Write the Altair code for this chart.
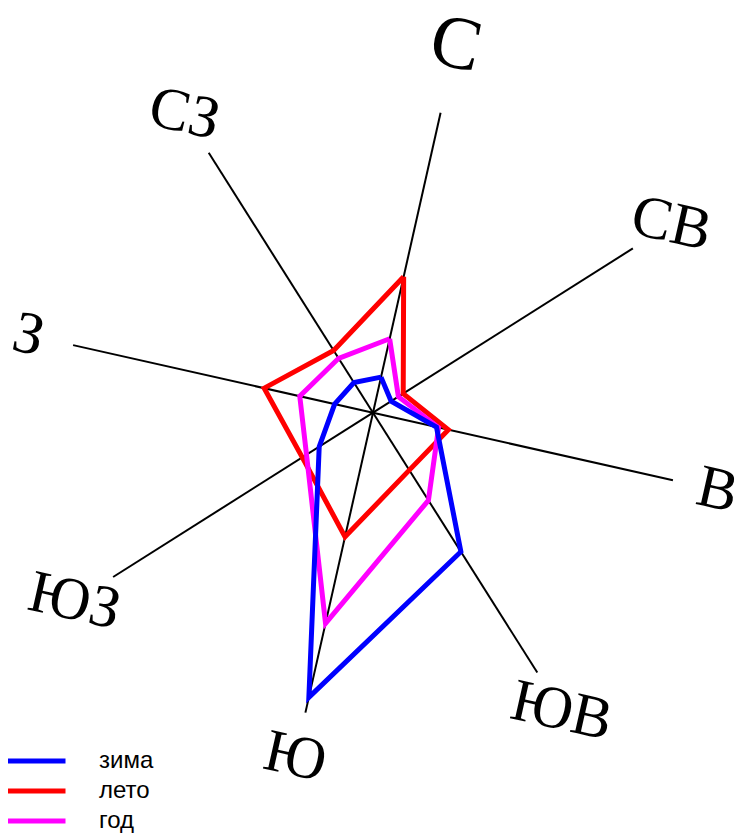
import altair as alt
import pandas as pd

# Wind directions (rumbs), clockwise from north
directions = ["С", "СВ", "В", "ЮВ", "Ю", "ЮЗ", "З", "СЗ"]

# Wind direction frequency, %
winter = [5.1, 3.0, 9.1, 23.0, 40.8, 8.9, 5.5, 5.0]
summer = [19.5, 5.0, 10.8, 9.5, 17.8, 11.7, 15.6, 10.3]
year = [10.6, 4.2, 9.4, 14.5, 30.2, 11.0, 10.5, 9.0]

series_names = ["зима", "лето", "год"]
series_colors = ["#0000ff", "#ff0000", "#ff00ff"]

ROT = 12.7        # rotation of the rose, degrees clockwise
AXIS_LEN = 43     # length of the rumb lines, %
LABEL_R = 49.4    # label radius, %
LABEL_R_N = 52.8  # label radius for the north label, %
PX = 7.15         # pixels per %

PAD_TOP = 10
W, H = 739, 824
CX, CY = 365.0, 404.7 - PAD_TOP   # centre inside the plot area, px
xdom = [-CX / PX, (W - CX) / PX]
ydom = [(CY - H) / PX, CY / PX]

rows = []
for name, vals in zip(series_names, [winter, summer, year]):
    for k in range(9):
        rows.append({"series": name, "dir": directions[k % 8], "idx": k % 8,
                     "order": k, "value": vals[k % 8]})
lines_df = pd.DataFrame(rows)
dirs_df = pd.DataFrame({"dir": directions, "idx": list(range(8))})

theta = f"(datum.idx * 45 + {ROT}) * PI / 180"
xs = alt.Scale(domain=xdom, nice=False, zero=False)
ys = alt.Scale(domain=ydom, nice=False, zero=False)
cscale = alt.Scale(domain=series_names, range=series_colors)

color = alt.Color(
    "series:N",
    scale=cscale,
    legend=alt.Legend(
        title=None, orient="none", legendX=-12, legendY=738 - PAD_TOP,
        symbolType="stroke", symbolSize=4489, symbolStrokeWidth=5,
        clipHeight=30, rowPadding=0, padding=0,
        labelFont="Liberation Sans", labelFontSize=24, labelOffset=31,
        labelColor="#000000",
    ),
)

spokes = alt.Chart(dirs_df).transform_calculate(
    t=theta,
    x0="0", y0="0",
    x1=f"{AXIS_LEN} * sin(datum.t)",
    y1=f"{AXIS_LEN} * cos(datum.t)",
).mark_rule(color="black", strokeWidth=2).encode(
    x=alt.X("x0:Q", scale=xs, axis=None),
    y=alt.Y("y0:Q", scale=ys, axis=None),
    x2="x1:Q",
    y2="y1:Q",
)

labels = alt.Chart(dirs_df).transform_calculate(
    t=theta,
    r=f"datum.idx == 0 ? {LABEL_R_N} : {LABEL_R}",
    lx="datum.r * sin(datum.t)",
    ly="datum.r * cos(datum.t)",
    fs="datum.idx == 0 ? 75 : 60",
).mark_text(
    font="Liberation Serif", angle=ROT, align="center", baseline="middle",
    color="black",
).encode(
    x=alt.X("lx:Q", scale=xs, axis=None),
    y=alt.Y("ly:Q", scale=ys, axis=None),
    text="dir:N",
    size=alt.Size("fs:Q", scale=None, legend=None),
)


def series_layer(name, with_legend):
    c = color if with_legend else alt.Color("series:N", legend=None, scale=cscale)
    return alt.Chart(lines_df).transform_filter(
        alt.datum.series == name
    ).transform_calculate(
        t=theta,
        x="datum.value * sin(datum.t)",
        y="datum.value * cos(datum.t)",
    ).mark_line(strokeWidth=5, strokeJoin="miter").encode(
        x=alt.X("x:Q", scale=xs, axis=None),
        y=alt.Y("y:Q", scale=ys, axis=None),
        order="order:Q",
        color=c,
    )


chart = alt.layer(
    spokes,
    labels,
    series_layer("лето", True),
    series_layer("год", False),
    series_layer("зима", False),
).properties(
    width=W, height=H, autosize="none",
    padding={"left": 0, "top": PAD_TOP, "right": 0, "bottom": 0},
).configure_view(stroke=None)

chart.save("out.html", embed_options={"renderer": "svg", "actions": False})
